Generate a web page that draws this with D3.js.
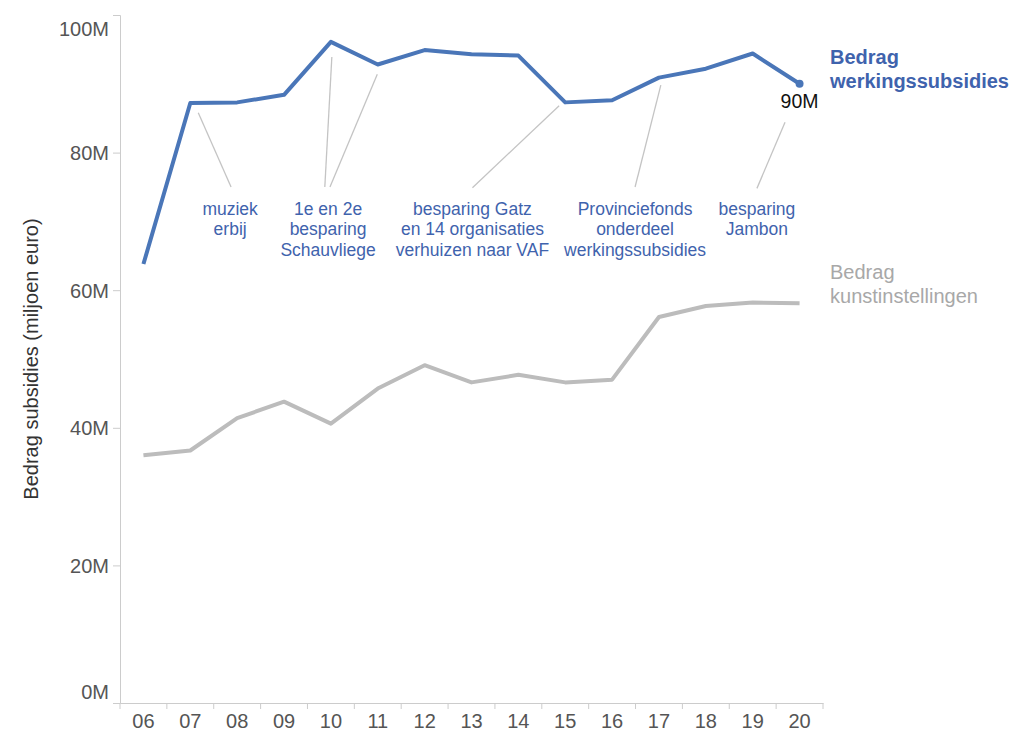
<!DOCTYPE html>
<html>
<head>
<meta charset="utf-8">
<script src="https://cdn.jsdelivr.net/npm/d3@7"></script>
<style>
  html, body { margin: 0; padding: 0; background: #fff; }
  svg { display: block; font-family: "Liberation Sans", Arial, Helvetica, sans-serif; }
</style>
</head>
<body>
<svg id="chart" width="1024" height="750"></svg>
<script>
// ---- data ----
const years = ["06","07","08","09","10","11","12","13","14","15","16","17","18","19","20"];
const werkingssubsidies = [63.8, 87.2, 87.3, 88.4, 96.1, 92.8, 94.9, 94.3, 94.1, 87.3, 87.6, 90.9, 92.2, 94.4, 90.0];
const kunstinstellingen = [36.0, 36.7, 41.4, 43.8, 40.6, 45.7, 49.1, 46.6, 47.7, 46.6, 47.0, 56.1, 57.7, 58.2, 58.1];
const yTicks = [0, 20, 40, 60, 80, 100];

// annotation rules: [year start, value start, year end, value end]  (year as fractional index 6..20)
const annotationRules = [
  [7.17, 85.8, 7.87, 75.0],
  [10.02, 93.9, 9.87, 75.0],
  [10.99, 91.4, 9.98, 75.0],
  [14.87, 86.8, 13.02, 74.9],
  [17.04, 89.8, 16.49, 75.0],
  [19.69, 84.4, 19.09, 74.8]
];
// annotation texts: [year center, first baseline value, lines]
const annotationTexts = [
  [7.85, 71.0, ["muziek", "erbij"]],
  [9.94, 71.0, ["1e en 2e", "besparing", "Schauvliege"]],
  [13.02, 71.0, ["besparing Gatz", "en 14 organisaties", "verhuizen naar VAF"]],
  [16.49, 71.0, ["Provinciefonds", "onderdeel", "werkingssubsidies"]],
  [19.09, 71.0, ["besparing", "Jambon"]]
];
const seriesLabels = [
  ["Bedrag", "werkingssubsidies"],
  ["Bedrag", "kunstinstellingen"]
];
const lastValueLabel = "90M";
const yTitle = "Bedrag subsidies (miljoen euro)";

// ---- layout ----
const mLeft = 120, mRight = 823, mTop = 15, mBottom = 703;
const blue = "#4a76b8", blueText = "#3f63ad", gray = "#bcbcbc", grayText = "#a8a8a8";
const axisColor = "#cccccc", labelColor = "#555555";

const svg = d3.select("#chart");

const x = d3.scaleBand().domain(years).range([mLeft, mRight]).padding(0);
const xLin = d3.scaleLinear().domain([5.5, 20.5]).range([mLeft, mRight]); // same positions, fractional years
const y = d3.scaleLinear().domain([0, 100]).range([mBottom, mTop]);
const cx = d => x(d) + x.bandwidth() / 2;

// y axis
const yAxis = svg.append("g").attr("transform", `translate(${mLeft},0)`)
  .call(d3.axisLeft(y).tickValues(yTicks).tickFormat(d => d + "M").tickSize(7).tickPadding(4));
yAxis.select(".domain").attr("stroke", axisColor);
yAxis.selectAll(".tick line").attr("stroke", axisColor);
yAxis.selectAll(".tick text")
  .attr("fill", labelColor).style("font-size", "20px")
  .attr("dy", d => d === 100 ? "1.0em" : d === 0 ? "-0.22em" : "0.35em");

// x axis
const xAxis = svg.append("g").attr("transform", `translate(0,${mBottom})`)
  .call(d3.axisBottom(x).tickSize(0).tickPadding(11));
xAxis.select(".domain").attr("stroke", axisColor);
xAxis.selectAll(".tick text").attr("fill", labelColor).style("font-size", "20px");
const boundaries = years.map(d => x(d)).concat([x(years[years.length - 1]) + x.bandwidth()]);
xAxis.selectAll("line.bt").data(boundaries).enter().append("line")
  .attr("class", "bt").attr("x1", d => d).attr("x2", d => d)
  .attr("y1", 0).attr("y2", 6).attr("stroke", axisColor);

// y title
svg.append("text")
  .attr("transform", `translate(38,${(mTop + mBottom) / 2}) rotate(-90)`)
  .attr("text-anchor", "middle").attr("fill", "#333")
  .style("font-size", "20px").text(yTitle);

// annotation rules
svg.append("g").selectAll("line").data(annotationRules).enter().append("line")
  .attr("x1", d => xLin(d[0])).attr("y1", d => y(d[1]))
  .attr("x2", d => xLin(d[2])).attr("y2", d => y(d[3]))
  .attr("stroke", "#c4c4c4").attr("stroke-width", 1.3);

// annotation texts
const at = svg.append("g").selectAll("text").data(annotationTexts).enter().append("text")
  .attr("x", d => xLin(d[0])).attr("y", d => y(d[1]))
  .attr("text-anchor", "middle").attr("fill", blueText).style("font-size", "17.5px");
at.selectAll("tspan").data(d => d[2].map(t => [xLin(d[0]), t])).enter().append("tspan")
  .attr("x", d => d[0]).attr("dy", (d, i) => i === 0 ? 0 : 20.8).text(d => d[1]);

// lines
const line = d3.line().x((d, i) => cx(years[i])).y(d => y(d));
svg.append("path").datum(kunstinstellingen).attr("d", line)
  .attr("fill", "none").attr("stroke", gray).attr("stroke-width", 4).attr("stroke-linejoin", "round");
svg.append("path").datum(werkingssubsidies).attr("d", line)
  .attr("fill", "none").attr("stroke", blue).attr("stroke-width", 4).attr("stroke-linejoin", "round");

// end dot and value
const lastI = years.length - 1;
svg.append("circle").attr("cx", cx(years[lastI])).attr("cy", y(werkingssubsidies[lastI]))
  .attr("r", 4).attr("fill", blue);
svg.append("text").attr("x", cx(years[lastI])).attr("y", y(werkingssubsidies[lastI]))
  .attr("dy", 24).attr("text-anchor", "middle").attr("fill", "#111")
  .style("font-size", "19.5px").text(lastValueLabel);

// series labels
const labelX = xLin(20.65);
const s1 = svg.append("text").attr("x", labelX).attr("y", y(92.9))
  .attr("fill", blueText).style("font-size", "20px").style("font-weight", "bold");
s1.selectAll("tspan").data(seriesLabels[0]).enter().append("tspan")
  .attr("x", labelX).attr("dy", (d, i) => i === 0 ? 0 : 24).text(d => d);
const s2 = svg.append("text").attr("x", labelX).attr("y", y(61.6))
  .attr("fill", grayText).style("font-size", "20px");
s2.selectAll("tspan").data(seriesLabels[1]).enter().append("tspan")
  .attr("x", labelX).attr("dy", (d, i) => i === 0 ? 0 : 24).text(d => d);
</script>
</body>
</html>
